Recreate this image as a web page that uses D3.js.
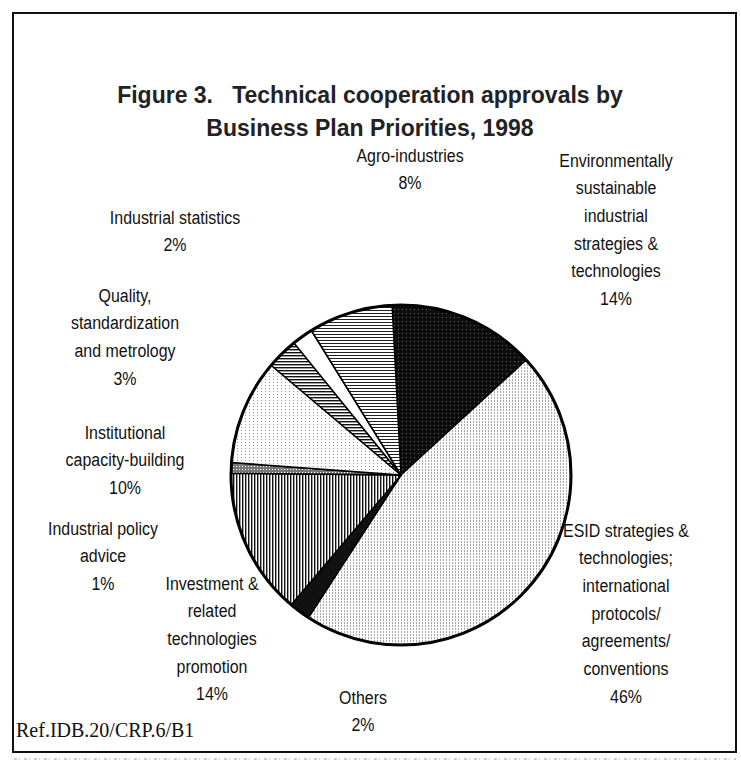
<!DOCTYPE html>
<html>
<head>
<meta charset="utf-8">
<script src="https://cdn.jsdelivr.net/npm/d3@7"></script>
<style>
  body{margin:0;background:#fff;}
  svg{display:block;}
</style>
</head>
<body>
<div id="svg-container"></div>
<script>
// data, clockwise from 12 o'clock
const categories=["Environmentally sustainable industrial strategies & technologies",
  "ESID strategies & technologies; international protocols/ agreements/ conventions",
  "Others","Investment & related technologies promotion","Industrial policy advice",
  "Institutional capacity-building","Quality, standardization and metrology",
  "Industrial statistics","Agro-industries"];
const values=[14,46,2,14,1,10,3,2,8];
const labelLines=[
  ["Environmentally","sustainable","industrial","strategies &","technologies"],
  ["ESID strategies &","technologies;","international","protocols/","agreements/","conventions"],
  ["Others"],
  ["Investment &","related","technologies","promotion"],
  ["Industrial policy","advice"],
  ["Institutional","capacity-building"],
  ["Quality,","standardization","and metrology"],
  ["Industrial statistics"],
  ["Agro-industries"]
];

const w=741, h=766;
const cx=401, cy=475, r=170;
const lineH=27.7;
const narrow=0.84;

// label block anchors: center x, center y of first line
const labelPos=[
  {x:616,y:160},{x:626,y:530},{x:363,y:697},{x:212,y:583},{x:103,y:528},
  {x:125,y:432},{x:125,y:295},{x:175,y:217},{x:410,y:155}
];

const svg=d3.select("#svg-container").append("svg")
  .attr("width",w).attr("height",h);

const defs=svg.append("defs");
function pattern(id,wd,ht,draw){
  const p=defs.append("pattern").attr("id",id).attr("patternUnits","userSpaceOnUse")
    .attr("width",wd).attr("height",ht);
  draw(p);
}
pattern("pDark",4,4,p=>{
  p.append("rect").attr("width",4).attr("height",4).attr("fill","#0d0d0d");
  p.append("rect").attr("x",1).attr("y",2).attr("width",1).attr("height",1).attr("fill","#666");
});
pattern("pDots",3,3,p=>{
  p.append("rect").attr("width",3).attr("height",3).attr("fill","#fff");
  p.append("rect").attr("x",0).attr("y",0).attr("width",1).attr("height",2).attr("fill","#a8a8a8");
});
pattern("pDotsLight",4,3,p=>{
  p.append("rect").attr("width",4).attr("height",3).attr("fill","#fff");
  p.append("rect").attr("x",0).attr("y",0).attr("width",1).attr("height",1).attr("fill","#999");
});
pattern("pVert",3,3,p=>{
  p.append("rect").attr("width",3).attr("height",3).attr("fill","#fff");
  p.append("rect").attr("x",0).attr("width",1.4).attr("height",3).attr("fill","#111");
});
pattern("pHorz",3,3,p=>{
  p.append("rect").attr("width",3).attr("height",3).attr("fill","#fff");
  p.append("rect").attr("y",0).attr("width",3).attr("height",1.4).attr("fill","#111");
});
pattern("pHorzLight",3,3,p=>{
  p.append("rect").attr("width",3).attr("height",3).attr("fill","#fff");
  p.append("rect").attr("y",0).attr("width",3).attr("height",1).attr("fill","#222");
});
pattern("pCross",3,3,p=>{
  p.append("rect").attr("width",3).attr("height",3).attr("fill","#777");
  p.append("rect").attr("width",1).attr("height",1).attr("fill","#fff");
});
const fills=["url(#pDark)","url(#pDots)","#111","url(#pVert)","url(#pCross)",
  "url(#pDotsLight)","url(#pHorz)","#fff","url(#pHorzLight)"];

// frame
svg.append("rect").attr("x",13).attr("y",13).attr("width",723).attr("height",739)
  .attr("fill","none").attr("stroke","#111").attr("stroke-width",2);
svg.append("line").attr("x1",14).attr("x2",736).attr("y1",759).attr("y2",759)
  .attr("stroke","#ccc").attr("stroke-width",2).attr("stroke-dasharray","3,2,1,4");

// title
const title=svg.append("text").attr("text-anchor","middle")
  .style("font-family","'Liberation Sans',Arial,sans-serif").style("font-size","23px")
  .style("font-weight","bold").attr("fill","#222");
title.append("tspan").attr("x",370).attr("y",103).attr("xml:space","preserve")
  .text("Figure 3.\u00a0\u00a0 Technical cooperation approvals by");
title.append("tspan").attr("x",370).attr("y",136).text("Business Plan Priorities, 1998");

// pie
const off=-3*Math.PI/180;
const pie=d3.pie().sort(null).startAngle(off).endAngle(off+2*Math.PI);
const arc=d3.arc().innerRadius(0).outerRadius(r);
const g=svg.append("g").attr("transform",`translate(${cx},${cy})`);
g.selectAll("path").data(pie(values)).enter().append("path")
  .attr("d",arc)
  .attr("fill",(d,i)=>fills[i])
  .attr("stroke","#000").attr("stroke-width",1.5).attr("stroke-linejoin","round");
g.append("circle").attr("r",r).attr("fill","none").attr("stroke","#000").attr("stroke-width",3);

// labels, condensed like Arial Narrow
labelLines.forEach((lines,i)=>{
  const t=svg.append("text").attr("text-anchor","middle")
    .attr("transform",`translate(${labelPos[i].x},0) scale(${narrow},1)`)
    .style("font-family","'Liberation Sans',Arial,sans-serif").style("font-size","19px")
    .attr("fill","#111");
  const all=lines.concat([values[i]+"%"]);
  all.forEach((s,j)=>{
    t.append("tspan").attr("x",0).attr("y",labelPos[i].y+j*lineH)
      .attr("dy","0.35em").text(s);
  });
});

svg.append("text").text("Ref.IDB.20/CRP.6/B1")
  .attr("x",16).attr("y",737)
  .style("font-family","'Liberation Serif','Times New Roman',serif").style("font-size","20px")
  .attr("fill","#111");
</script>
</body>
</html>
